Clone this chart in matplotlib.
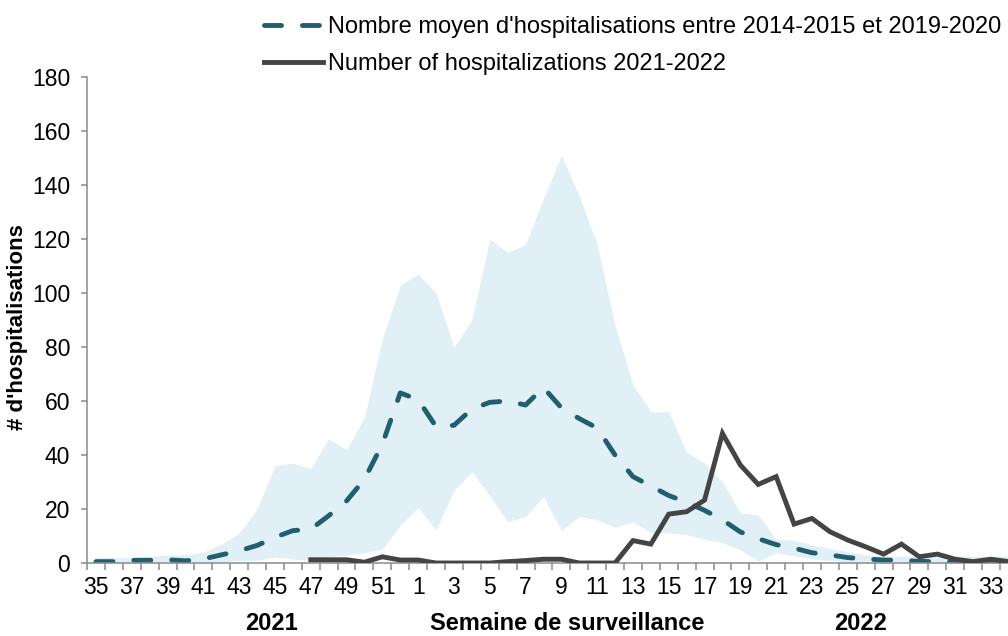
import numpy as np
import matplotlib.pyplot as plt

plt.rcParams['font.family'] = ['Liberation Sans', 'DejaVu Sans']

# surveillance weeks, 2021-2022 season
weeks = list(range(35, 53)) + list(range(1, 35))

# historical mean 2014-2015 .. 2019-2020
mean_hist = [0.5, 0.5, 1, 1, 1.2, 0.8, 1.5, 3, 4.5, 6.5, 9.5, 12, 12.5, 17.5, 23, 31,
             44, 63, 60.5, 50.5, 51, 57, 59.5, 60, 58.5, 65, 57.5, 53.5, 50, 40, 32, 28.5,
             25, 22.5, 19.5, 16, 11.5, 9, 6.8, 5.5, 3.8, 3, 2, 1.5, 1.1, 1, 0.6, 0.5,
             0.3, 0.3, 0.3, 0.3]

# min / max range of the historical seasons
band_low = [0, 0, 0, 0, 0, 0, 0, 0.5, 1, 1, 2.2, 1.5, 1, 2.3, 3, 3.7,
            5.2, 14, 20.5, 12.2, 27, 33.8, 24.8, 15.3, 17.2, 24.6, 12, 17.2, 16, 13.2, 15.3, 11.2,
            11.2, 10.5, 8.8, 7.5, 4.8, 0.7, 3.8, 2.6, 1.6, 1, 0.5, 0, 0, 0, 0, 0,
            0, 0, 0, 0]
band_high = [2, 2, 2, 2.5, 3, 3, 4, 7, 11, 20, 36, 37, 35, 46, 42, 54,
             83, 103, 107, 100, 80, 90, 120, 115, 118, 135, 151, 136, 118, 88, 66, 56,
             56, 41, 37, 30, 18.6, 17.8, 8.8, 8.5, 6.7, 5.4, 4.2, 3, 2.5, 2.5, 2.5, 2.5,
             2.5, 2.5, 2.5, 2.5]

# current season
hosp_2122 = [np.nan, np.nan, np.nan, np.nan, np.nan, np.nan, np.nan, np.nan, np.nan, np.nan,
             np.nan, np.nan, 1.2, 1.2, 1.2, 0.3, 2.3, 1.1, 1.1, 0, 0, 0, 0, 0.5, 0.9, 1.4,
             1.4, 0, 0, 0, 8.3, 7, 18.1, 19, 23.3, 48, 36.3, 29.1, 32, 14.4, 16.5, 11.6,
             8.5, 6, 3.3, 7, 2.3, 3.3, 1.4, 0.5, 1.4, 0.5]

x = np.arange(len(weeks))

fig = plt.figure(figsize=(10.08, 6.36), dpi=100)
ax = fig.add_axes([87 / 1008, 73 / 636, 930.8 / 1008, 486 / 636])

ax.fill_between(x, band_low, band_high, color='#e1f0f6', linewidth=0, zorder=1)
ax.plot(x, mean_hist, color='#215e6e', lw=3.5, ls=(0, (3.5, 4.3)),
        dash_capstyle='round', zorder=2,
        label="Nombre moyen d'hospitalisations entre 2014-2015 et 2019-2020")
ax.plot(x, hosp_2122, color='#444444', lw=3.5, solid_joinstyle='miter', zorder=3,
        label='Number of hospitalizations 2021-2022')

ax.set_xlim(-0.5, len(weeks) - 0.5)
ax.set_ylim(0, 180)
ax.set_yticks(range(0, 181, 20))
ax.set_xticks(x[::2])
ax.set_xticklabels([str(w) for w in weeks[::2]])
ax.set_xticks(np.arange(-0.5, len(weeks), 1), minor=True)

ax.tick_params(axis='x', which='major', length=0, pad=9, labelsize=16.5)
ax.tick_params(axis='x', which='minor', length=5, width=1.1, color='#8c8c8c', direction='out')
ax.tick_params(axis='y', length=4, width=1.1, color='#8c8c8c', pad=8, labelsize=16.5)

for side in ['top', 'right']:
    ax.spines[side].set_visible(False)
for side in ['left', 'bottom']:
    ax.spines[side].set_color('#8c8c8c')
    ax.spines[side].set_linewidth(1.1)

ax.set_ylabel("# d'hospitalisations", fontsize=16, fontweight='bold')
ax.yaxis.set_label_coords(-0.0635, 0.486)

fig.text(271 / 1008, 1 - 630 / 636, '2021', ha='center', va='baseline',
         fontsize=17, fontweight='bold')
fig.text(567 / 1008, 1 - 630 / 636, 'Semaine de surveillance', ha='center', va='baseline',
         fontsize=17, fontweight='bold')
fig.text(861 / 1008, 1 - 630 / 636, '2022', ha='center', va='baseline',
         fontsize=17, fontweight='bold')

fig.legend(loc='upper left', bbox_to_anchor=(264 / 1008, 1 - 16 / 636), frameon=False,
           fontsize=17, handlelength=2.5, handletextpad=0.2, borderpad=0,
           borderaxespad=0, labelspacing=0.65)

fig.savefig('out.png', dpi=100)
